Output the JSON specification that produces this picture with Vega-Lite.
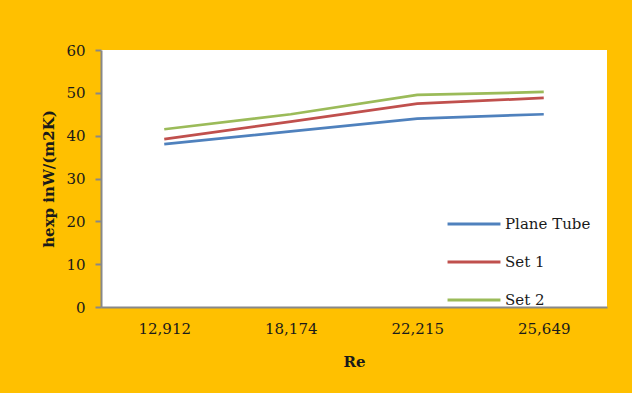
{
  "$schema": "https://vega.github.io/schema/vega-lite/v6.json",
  "width": 506,
  "height": 257,
  "autosize": {"type": "none"},
  "padding": {"left": 101, "top": 50, "right": 25, "bottom": 86},
  "background": "#FFC000",
  "config": {
    "view": {"fill": "white", "stroke": null},
    "font": "DejaVu Serif",
    "axis": {"labelFont": "DejaVu Serif", "titleFont": "DejaVu Serif", "labelColor": "#1a1a1a", "titleColor": "#1a1a1a"},
    "legend": {"labelFont": "DejaVu Serif"}
  },
  "data": {
    "values": [
      {"Re": "12,912", "order": 1, "series": "Plane Tube", "h": 38.0},
      {"Re": "18,174", "order": 2, "series": "Plane Tube", "h": 41.0},
      {"Re": "22,215", "order": 3, "series": "Plane Tube", "h": 44.0},
      {"Re": "25,649", "order": 4, "series": "Plane Tube", "h": 45.0},
      {"Re": "12,912", "order": 1, "series": "Set 1", "h": 39.2},
      {"Re": "18,174", "order": 2, "series": "Set 1", "h": 43.3},
      {"Re": "22,215", "order": 3, "series": "Set 1", "h": 47.5},
      {"Re": "25,649", "order": 4, "series": "Set 1", "h": 48.8},
      {"Re": "12,912", "order": 1, "series": "Set 2", "h": 41.5},
      {"Re": "18,174", "order": 2, "series": "Set 2", "h": 45.0},
      {"Re": "22,215", "order": 3, "series": "Set 2", "h": 49.5},
      {"Re": "25,649", "order": 4, "series": "Set 2", "h": 50.2}
    ]
  },
  "mark": {"type": "line", "strokeWidth": 2.75},
  "encoding": {
    "x": {
      "field": "Re",
      "type": "ordinal",
      "sort": ["12,912", "18,174", "22,215", "25,649"],
      "scale": {"type": "point", "padding": 0.5},
      "axis": {
        "title": "Re",
        "labelAngle": 0,
        "labelFontSize": 15,
        "labelPadding": 14,
        "ticks": false,
        "domainColor": "#888888",
        "domainWidth": 2,
        "grid": false,
        "titleFontSize": 15,
        "titleFontWeight": "bold",
        "titlePadding": 18
      }
    },
    "y": {
      "field": "h",
      "type": "quantitative",
      "scale": {"domain": [0, 60], "nice": false},
      "axis": {
        "title": "hexp inW/(m2K)",
        "values": [0, 10, 20, 30, 40, 50, 60],
        "labelFontSize": 15,
        "labelPadding": 10,
        "tickSize": 6,
        "tickColor": "#888888",
        "tickWidth": 2,
        "domainColor": "#888888",
        "domainWidth": 2,
        "grid": false,
        "titleFontSize": 15,
        "titleFontWeight": "bold",
        "titlePadding": 9
      }
    },
    "color": {
      "field": "series",
      "type": "nominal",
      "scale": {"domain": ["Plane Tube", "Set 1", "Set 2"], "range": ["#4F81BD", "#C0504D", "#9BBB59"]},
      "legend": {
        "title": null,
        "orient": "none",
        "legendX": 345,
        "legendY": 146,
        "symbolType": "stroke",
        "symbolSize": 2800,
        "symbolStrokeWidth": 3,
        "labelFontSize": 15,
        "labelColor": "#1a1a1a",
        "labelOffset": 3,
        "rowPadding": 2
      }
    }
  }
}
